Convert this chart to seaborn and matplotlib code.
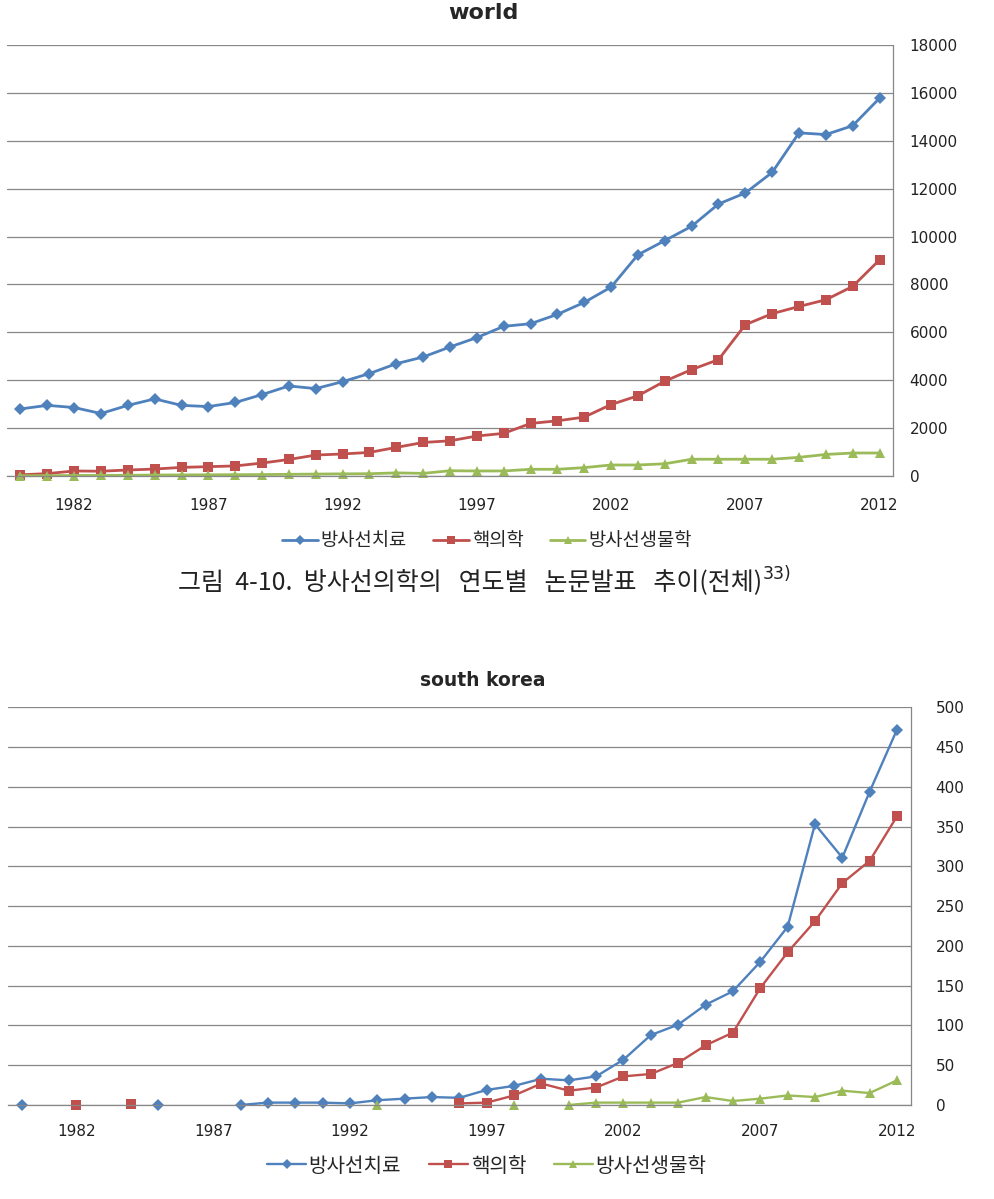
import numpy as np
import pandas as pd
import matplotlib.pyplot as plt
import seaborn as sns

years = list(range(1980, 2013))
series_names = ['방사선치료', '핵의학', '방사선생물학']

# world
world_therapy = [2800, 2950, 2860, 2610, 2950, 3220, 2950, 2900, 3070, 3400, 3760,
                 3650, 3940, 4280, 4690, 4970, 5390, 5780, 6250, 6360, 6750, 7250,
                 7890, 9240, 9830, 10430, 11360, 11820, 12680, 14330, 14260, 14630, 15780]
world_nuclear = [50, 100, 210, 200, 250, 290, 360, 390, 420, 540, 690,
                 875, 920, 985, 1195, 1400, 1470, 1670, 1780, 2195, 2305, 2460,
                 2985, 3350, 3960, 4445, 4860, 6320, 6780, 7080, 7360, 7920, 9030]
world_biology = [10, 15, 20, 25, 30, 40, 45, 50, 55, 60, 70,
                 80, 90, 95, 130, 110, 220, 210, 210, 280, 280, 350,
                 460, 460, 510, 700, 700, 700, 700, 780, 900, 960, 960]

# south korea (nan = no data, line is broken there)
nan = np.nan
korea_therapy = [0, nan, nan, nan, nan, 0, nan, nan, 0, 3, 3,
                 3, 2, 6, 8, 10, 9, 19, 24, 33, 31, 36,
                 57, 88, 101, 126, 143, 180, 224, 353, 311, 394, 472]
korea_nuclear = [nan, nan, 0, nan, 1, nan, nan, nan, nan, nan, nan,
                 nan, nan, nan, nan, nan, 2, 3, 12, 27, 18, 22,
                 36, 39, 53, 75, 91, 147, 192, 231, 279, 307, 363]
korea_biology = [nan, nan, nan, nan, nan, nan, nan, nan, nan, nan, nan,
                 nan, nan, 0, nan, nan, nan, nan, 0, nan, 0, 3,
                 3, 3, 3, 10, 5, 8, 12, 10, 18, 15, 31]

colors = {'방사선치료': '#4F81BD', '핵의학': '#C0504D', '방사선생물학': '#9BBB59'}
markers = {'방사선치료': 'D', '핵의학': 's', '방사선생물학': '^'}
msizes = {'방사선치료': 6, '핵의학': 7.5, '방사선생물학': 7.5}


def to_long(values_list):
    frames = []
    for name, vals in zip(series_names, values_list):
        s = pd.Series(vals, dtype=float)
        seg = s.isna().cumsum()
        d = pd.DataFrame({'year': years, 'value': s,
                          'series': name, 'seg': name + seg.astype(str)})
        frames.append(d.dropna())
    return pd.concat(frames, ignore_index=True)


world_df = to_long([world_therapy, world_nuclear, world_biology])
korea_df = to_long([korea_therapy, korea_nuclear, korea_biology])

sns.set_style('white')
plt.rcParams['font.family'] = ['DejaVu Sans', 'Noto Sans CJK KR']

fig = plt.figure(figsize=(9.94, 11.99), dpi=100)
W, H = 994, 1199
ax1 = fig.add_axes([7 / W, 1 - 476 / H, 886 / W, 431 / H])
ax2 = fig.add_axes([8 / W, 1 - 1105 / H, 902.7 / W, 397.7 / H])

grid_c = '#878787'


def draw(ax, df, lw, ymax, ystep, ypad, xpad, leg_y, leg_fs):
    for name in series_names:
        sub = df[df['series'] == name]
        sns.lineplot(data=sub, x='year', y='value', units='seg', estimator=None,
                     color=colors[name], marker=markers[name], markersize=msizes[name],
                     markeredgewidth=0, linewidth=lw, label=name, ax=ax, legend=False,
                     sort=True, clip_on=False)
    ax.set_xlim(1979.5, 2012.5)
    ax.set_ylim(0, ymax)
    ax.set_xticks(years[2::5])
    ax.set_yticks(np.arange(0, ymax + 1, ystep))
    ax.yaxis.tick_right()
    ax.tick_params(axis='y', length=0, pad=ypad, labelsize=11, labelcolor='#222222')
    ax.tick_params(axis='x', length=0, pad=xpad, labelsize=11, labelcolor='#222222')
    ax.grid(axis='y', color=grid_c, linewidth=0.9)
    ax.set_axisbelow(True)
    ax.set_xlabel('')
    ax.set_ylabel('')
    for side in ['left', 'top']:
        ax.spines[side].set_visible(False)
    for side in ['right', 'bottom']:
        ax.spines[side].set_color(grid_c)
        ax.spines[side].set_linewidth(0.9)
    handles = [plt.Line2D([], [], color=colors[n], marker=markers[n],
                          markersize=msizes[n] * 0.8, markeredgewidth=0,
                          linewidth=lw) for n in series_names]
    fig.legend(handles, series_names, loc='center', bbox_to_anchor=(487 / W, 1 - leg_y / H),
               ncol=3, frameon=False, fontsize=leg_fs, handlelength=1.9,
               handletextpad=0.15, columnspacing=1.4)


draw(ax1, world_df, 2.0, 18000, 2000, 12, 16, 541, 13.5)
draw(ax2, korea_df, 1.7, 500, 50, 18, 14, 1166, 14.5)

fig.text(483 / W, 1 - 13 / H, 'world', ha='center', va='center',
         fontsize=16, fontweight='bold')
fig.text(483 / W, 1 - 681 / H, 'south korea', ha='center', va='center',
         fontsize=13.5, fontweight='bold')

cap = fig.text(470 / W, 1 - 582 / H, '그림  4-10.  방사선의학의   연도별   논문발표   추이(전체)',
               ha='center', va='center', fontsize=18, family=['Noto Sans CJK KR'],
               color='#222222')
fig.canvas.draw()
bb = cap.get_window_extent()
fig.text((bb.x1 + 1) / W, (bb.y0 + bb.height * 0.45) / H, '33)', fontsize=12.5,
         color='#222222', va='bottom', ha='left')

fig.savefig('out.png', dpi=100)
